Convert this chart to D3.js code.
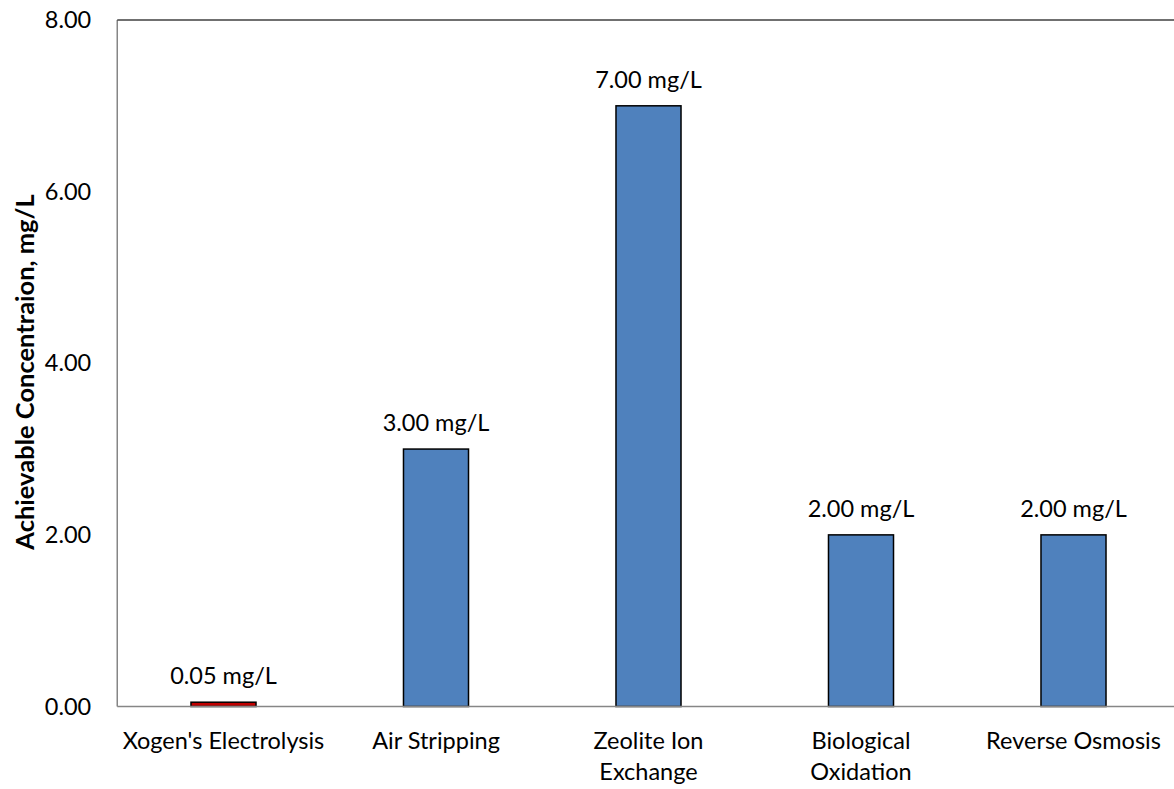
<!DOCTYPE html>
<html>
<head>
<meta charset="utf-8">
<script src="https://cdn.jsdelivr.net/npm/d3@7"></script>
<style>
  html, body { margin: 0; padding: 0; background: #fff; }
  svg { display: block; font-family: Lato, "Open Sans", sans-serif; }
</style>
</head>
<body>
<svg id="chart" width="1174" height="789"></svg>
<script>
// Achievable ammonia concentration by treatment technology
const categories = [
  ["Xogen's Electrolysis"],
  ["Air Stripping"],
  ["Zeolite Ion", "Exchange"],
  ["Biological", "Oxidation"],
  ["Reverse Osmosis"]
];
const values = [0.05, 3.00, 7.00, 2.00, 2.00];
const barColors = ["#C00000", "#4F81BD", "#4F81BD", "#4F81BD", "#4F81BD"];
const yTicks = [0, 2, 4, 6, 8];
const yTitle = "Achievable Concentraion, mg/L";

const svg = d3.select("#chart");
const margin = { left: 117.25, top: 20, bottom: 82.5 };
const plotW = 1062.5;
const plotH = 789 - margin.top - margin.bottom;
const fontSize = 23.5;

const keys = categories.map(c => c.join(" "));
const x = d3.scaleBand().domain(keys).range([margin.left, margin.left + plotW])
  .paddingInner(0.694).paddingOuter(0.347);
const y = d3.scaleLinear().domain([0, 8]).range([margin.top + plotH, margin.top]);

// Plot frame: left and top edges
const axisColor = "#868686";
svg.append("line").attr("x1", margin.left).attr("x2", margin.left)
  .attr("y1", y(8)).attr("y2", y(0)).attr("stroke", axisColor).attr("stroke-width", 1.5);
svg.append("line").attr("x1", margin.left).attr("x2", margin.left + plotW)
  .attr("y1", y(8)).attr("y2", y(8)).attr("stroke", "#404040").attr("stroke-width", 1.5);

// Y axis labels
const yAxis = d3.axisLeft(y).tickValues(yTicks).tickFormat(d3.format(".2f")).tickSize(0).tickPadding(26);
const gy = svg.append("g").attr("transform", `translate(${margin.left},0)`).call(yAxis);
gy.select(".domain").remove();
gy.selectAll("text").attr("font-size", fontSize).attr("fill", "#000").attr("font-family", "Lato, sans-serif");

// Bars
svg.append("g").selectAll("rect").data(values).join("rect")
  .attr("x", (d, i) => x(keys[i]))
  .attr("y", d => y(d))
  .attr("width", x.bandwidth())
  .attr("height", d => y(0) - y(d))
  .attr("fill", (d, i) => barColors[i])
  .attr("stroke", "#000").attr("stroke-width", 1.5);

// Baseline drawn over bar bottoms
svg.append("line").attr("x1", margin.left).attr("x2", margin.left + plotW)
  .attr("y1", y(0)).attr("y2", y(0)).attr("stroke", axisColor).attr("stroke-width", 1.5);

// Value labels
svg.append("g").selectAll("text").data(values).join("text")
  .attr("x", (d, i) => x(keys[i]) + x.bandwidth() / 2)
  .attr("y", d => y(d) - 18)
  .attr("text-anchor", "middle")
  .attr("font-size", fontSize)
  .attr("fill", "#000")
  .text(d => d3.format(".2f")(d) + " mg/L");

// Category labels
const cat = svg.append("g").selectAll("text").data(categories).join("text")
  .attr("x", (d, i) => x(keys[i]) + x.bandwidth() / 2)
  .attr("y", y(0) + 42)
  .attr("text-anchor", "middle")
  .attr("font-size", fontSize)
  .attr("fill", "#000");
cat.selectAll("tspan").data(d => d).join("tspan")
  .attr("x", function () { return d3.select(this.parentNode).attr("x"); })
  .attr("dy", (d, i) => i === 0 ? 0 : 31)
  .text(d => d);

// Y axis title
svg.append("text")
  .attr("transform", `translate(34,${372}) rotate(-90)`)
  .attr("text-anchor", "middle")
  .attr("font-size", 25.5)
  .attr("font-weight", "bold")
  .attr("fill", "#000")
  .text(yTitle);
</script>
</body>
</html>
